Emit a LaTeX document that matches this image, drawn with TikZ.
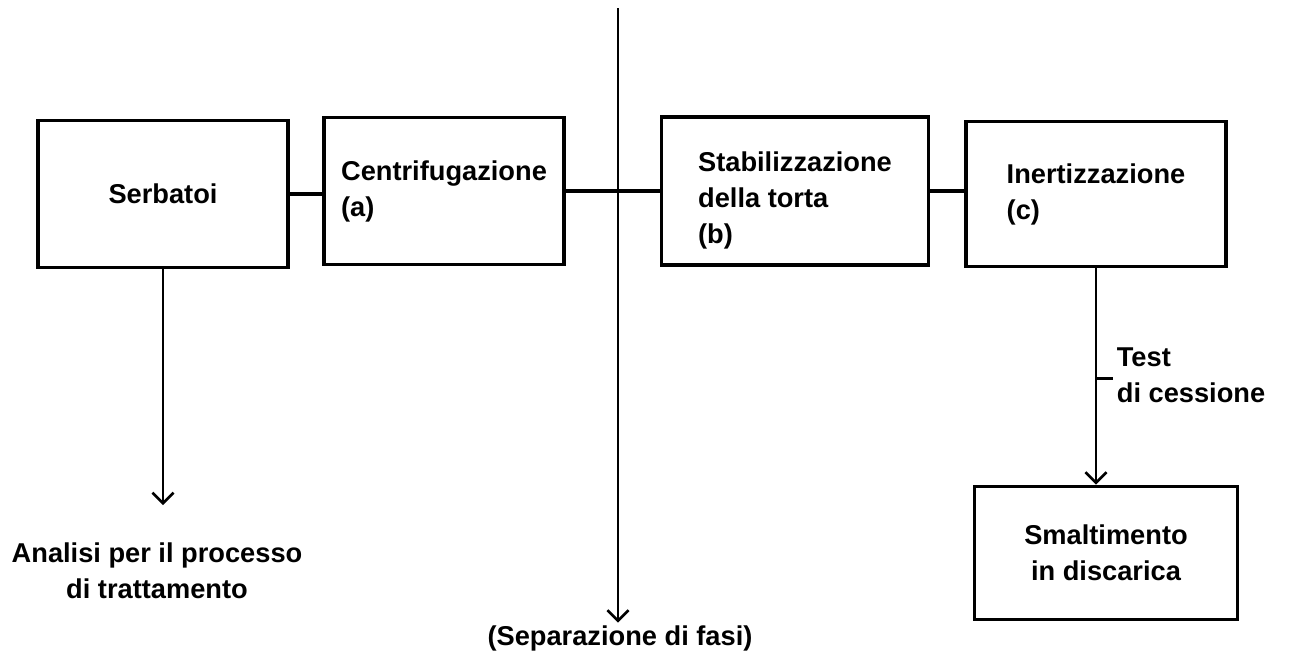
\documentclass[tikz,border=0pt]{standalone}
\usepackage{fontspec}
\setmainfont{Liberation Sans}
\usetikzlibrary{arrows.meta}

\tikzset{
  every node/.style={font=\fontsize{15.5}{20.5}\selectfont\bfseries},
  stadio/.style={draw, line width=2.1pt, align=left, inner sep=0pt},
  flusso/.style={line width=1.6pt},
  >={Straight Barb[length=6pt,width=12pt,line width=1.5pt]}
}

\begin{document}
\begin{tikzpicture}[x=0.02cm, y=-0.02cm]
          \useasboundingbox (0,0) rectangle (1292,657);

          \node[stadio, align=center, minimum width=5cm, minimum height=2.94cm] (serb) at (163,194) {Serbatoi};
          \node[stadio, minimum width=4.8cm, minimum height=2.94cm] (centr) at (444,191) {Centrifugazione\\(a)};
          \node[stadio, minimum width=5.34cm, minimum height=2.96cm, text height=63pt] (stab) at (795,191) {Stabilizzazione\\della torta\\(b)};
          \node[stadio, minimum width=5.2cm, minimum height=2.9cm] (inert) at (1096,194) {Inertizzazione\\(c)};
          \node[stadio, align=center, minimum width=5.26cm, minimum height=2.66cm] (smalt) at (1106,553) {Smaltimento\\in discarica};

          \node[align=center] (anal) at (157,571) {Analisi per il processo\\di trattamento};
          \node (sep) at (620,638) {(Separazione di fasi)};
          \node[align=left, anchor=west, inner sep=2pt] (test) at (1113,375) {Test\\di cessione};

          \coordinate (septop) at (618,8);
          \coordinate (analend) at (163,505);

          % linea dei processi
          \draw [flusso, line width=2pt] (serb.east) -- (serb.east -| centr.west);
          \draw [flusso, line width=2pt] (centr.east) -- (centr.east -| stab.west);
          \draw [flusso, line width=2pt] (stab.east) -- (stab.east -| inert.west);

          \draw [flusso, ->] (serb.south) -- (analend);
          \draw [flusso, ->] (septop) -- ([yshift=-2pt]septop |- sep.north);
          \draw [flusso, ->] (inert.south) -- (inert.south |- smalt.north);
          \draw [flusso, line width=2pt] ([yshift=-2pt]inert.south |- test.west) -- ([yshift=-2pt]test.west);

        \end{tikzpicture}
\end{document}
